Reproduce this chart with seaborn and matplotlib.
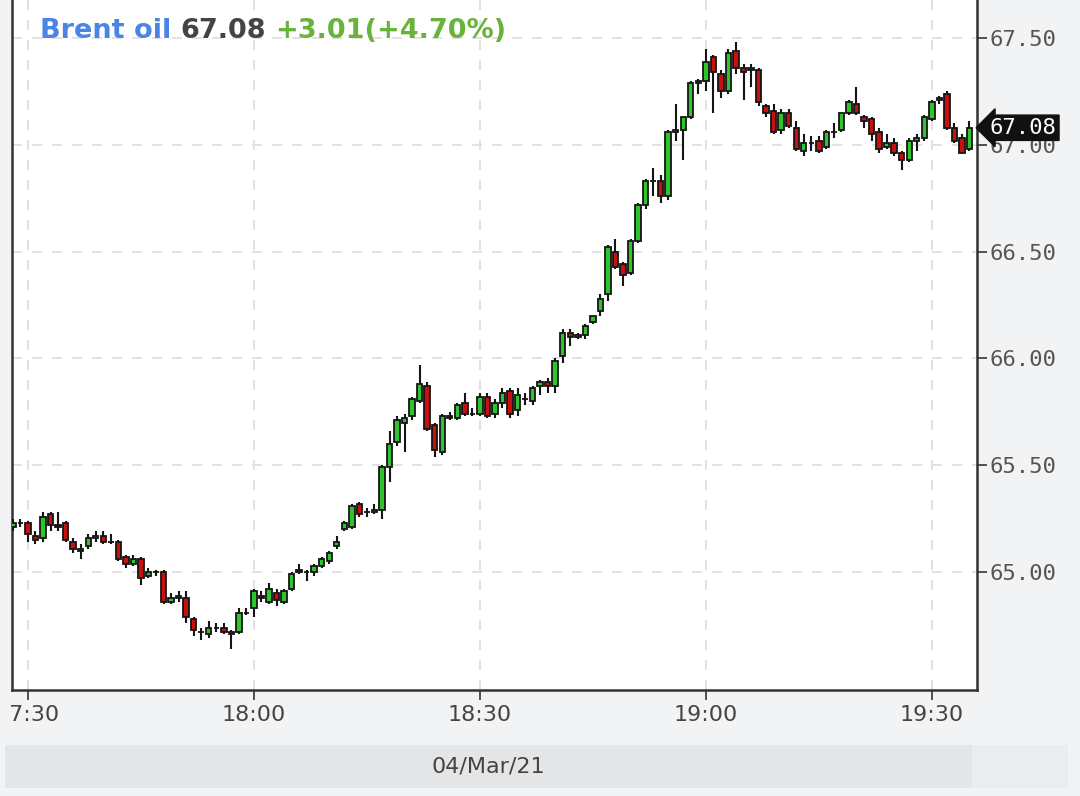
import numpy as np
import pandas as pd
import matplotlib
matplotlib.use("Agg")
import matplotlib.pyplot as plt
import seaborn as sns
from matplotlib.transforms import Bbox, TransformedBbox, blended_transform_factory
from matplotlib.patches import Rectangle

# ---------------- data (1-minute candles, Brent oil, 04/Mar/21 from 17:28) ----------------
opens = [65.21, 65.23, 65.23, 65.17, 65.16, 65.27, 65.22, 65.23, 65.14, 65.10,
         65.12, 65.16, 65.17, 65.14, 65.14, 65.07, 65.04, 65.06, 64.98, 65.00,
         65.00, 64.86, 64.88, 64.88, 64.78, 64.72, 64.71, 64.74, 64.74, 64.71,
         64.72, 64.81, 64.83, 64.89, 64.86, 64.90, 64.86, 64.92, 65.01, 65.00,
         65.00, 65.03, 65.05, 65.12, 65.20, 65.21, 65.32, 65.28, 65.28, 65.29,
         65.49, 65.61, 65.70, 65.73, 65.80, 65.87, 65.69, 65.56, 65.73, 65.72,
         65.79, 65.74, 65.74, 65.82, 65.74, 65.79, 65.85, 65.76, 65.81, 65.80,
         65.87, 65.89, 65.87, 66.01, 66.12, 66.10, 66.11, 66.17, 66.22, 66.30,
         66.50, 66.44, 66.40, 66.55, 66.72, 66.83, 66.83, 66.76, 67.06, 67.07,
         67.13, 67.29, 67.30, 67.41, 67.33, 67.25, 67.44, 67.36, 67.35, 67.35,
         67.18, 67.16, 67.07, 67.15, 67.08, 66.97, 67.01, 67.02, 66.99, 67.06,
         67.07, 67.15, 67.19, 67.13, 67.12, 67.06, 66.99, 67.01, 66.96, 66.93,
         67.02, 67.03, 67.12, 67.21, 67.24, 67.08, 67.03, 66.98]
highs = [65.25, 65.25, 65.24, 65.19, 65.28, 65.28, 65.28, 65.24, 65.16, 65.13,
         65.18, 65.19, 65.19, 65.18, 65.15, 65.08, 65.08, 65.07, 65.02, 65.01,
         65.01, 64.90, 64.91, 64.91, 64.79, 64.74, 64.77, 64.76, 64.76, 64.73,
         64.83, 64.83, 64.92, 64.91, 64.95, 64.92, 64.92, 65.00, 65.04, 65.01,
         65.04, 65.07, 65.10, 65.17, 65.24, 65.32, 65.33, 65.30, 65.32, 65.50,
         65.66, 65.73, 65.74, 65.82, 65.97, 65.89, 65.70, 65.74, 65.75, 65.79,
         65.84, 65.77, 65.84, 65.84, 65.81, 65.86, 65.86, 65.86, 65.84, 65.87,
         65.90, 65.91, 66.00, 66.14, 66.14, 66.12, 66.16, 66.20, 66.30, 66.53,
         66.56, 66.45, 66.56, 66.73, 66.84, 66.89, 66.86, 67.07, 67.19, 67.13,
         67.30, 67.31, 67.45, 67.42, 67.35, 67.45, 67.48, 67.38, 67.38, 67.36,
         67.19, 67.19, 67.17, 67.17, 67.11, 67.05, 67.04, 67.04, 67.07, 67.10,
         67.15, 67.21, 67.27, 67.14, 67.13, 67.08, 67.05, 67.03, 66.97, 67.03,
         67.05, 67.14, 67.21, 67.23, 67.25, 67.10, 67.05, 67.11]
lows = [65.19, 65.21, 65.14, 65.13, 65.14, 65.19, 65.19, 65.14, 65.09, 65.06,
        65.11, 65.14, 65.13, 65.13, 65.05, 65.02, 65.03, 64.94, 64.97, 64.98,
        64.85, 64.85, 64.86, 64.76, 64.70, 64.68, 64.69, 64.72, 64.71, 64.64,
        64.71, 64.80, 64.79, 64.86, 64.85, 64.84, 64.85, 64.91, 64.99, 64.96,
        64.98, 65.02, 65.04, 65.11, 65.19, 65.20, 65.26, 65.26, 65.27, 65.25,
        65.42, 65.59, 65.56, 65.71, 65.79, 65.66, 65.54, 65.55, 65.71, 65.71,
        65.73, 65.73, 65.73, 65.72, 65.72, 65.77, 65.72, 65.73, 65.78, 65.78,
        65.83, 65.84, 65.84, 65.98, 66.06, 66.09, 66.09, 66.16, 66.20, 66.27,
        66.42, 66.34, 66.39, 66.54, 66.70, 66.76, 66.73, 66.74, 67.02, 66.93,
        67.12, 67.24, 67.25, 67.15, 67.22, 67.24, 67.33, 67.21, 67.27, 67.18,
        67.13, 67.05, 67.05, 67.08, 66.97, 66.95, 66.97, 66.96, 66.98, 67.03,
        67.06, 67.14, 67.14, 67.08, 67.02, 66.96, 66.98, 66.95, 66.88, 66.92,
        66.97, 67.02, 67.11, 67.19, 67.07, 67.01, 66.96, 66.97]
closes = [65.23, 65.23, 65.18, 65.15, 65.26, 65.22, 65.21, 65.15, 65.11, 65.11,
          65.16, 65.17, 65.14, 65.14, 65.06, 65.04, 65.06, 64.97, 65.00, 65.00,
          64.86, 64.88, 64.89, 64.79, 64.73, 64.72, 64.74, 64.74, 64.72, 64.72,
          64.81, 64.81, 64.91, 64.88, 64.92, 64.87, 64.91, 64.99, 65.00, 65.00,
          65.03, 65.06, 65.09, 65.14, 65.23, 65.31, 65.27, 65.28, 65.29, 65.49,
          65.60, 65.71, 65.72, 65.81, 65.88, 65.67, 65.57, 65.73, 65.72, 65.78,
          65.74, 65.74, 65.82, 65.73, 65.79, 65.84, 65.74, 65.83, 65.81, 65.86,
          65.89, 65.87, 65.99, 66.12, 66.10, 66.11, 66.15, 66.20, 66.28, 66.52,
          66.43, 66.39, 66.55, 66.72, 66.83, 66.83, 66.76, 67.06, 67.07, 67.13,
          67.29, 67.30, 67.39, 67.34, 67.25, 67.43, 67.36, 67.34, 67.36, 67.20,
          67.15, 67.06, 67.15, 67.09, 66.98, 67.01, 67.01, 66.97, 67.06, 67.06,
          67.15, 67.20, 67.15, 67.11, 67.05, 66.98, 67.01, 66.96, 66.93, 67.02,
          67.03, 67.13, 67.20, 67.22, 67.08, 67.02, 66.96, 67.08]
times = pd.date_range("2021-03-04 17:28", periods=len(closes), freq="min")
y_ticks = [65.00, 65.50, 66.00, 66.50, 67.00, 67.50]
name = "Brent oil"
last_price = 67.08
change_text = "+3.01(+4.70%)"
date_text = "04/Mar/21"

df = pd.DataFrame({"t": times, "o": opens, "h": highs, "l": lows, "c": closes})
df["x"] = np.arange(len(df))
df["up"] = df["c"] >= df["o"]

# ---------------- style ----------------
sns.set_theme(style="white")
plt.rcParams["font.family"] = ["DejaVu Sans"]

W, H = 1080, 796
BG = "#f1f3f5"
fig = plt.figure(figsize=(W / 100, H / 100), dpi=100, facecolor=BG)
ax = fig.add_axes([12 / W, 106 / H, 965 / W, 690 / H])
ax.set_facecolor("white")

# candles
ax.vlines(df["x"], df["l"], df["h"], color="#151515", lw=1.5, zorder=3)
body_colors = np.where(df["up"], "#2ec42e", "#c8100f")
ax.bar(df["x"], df["c"] - df["o"], bottom=df["o"], width=0.72,
       color=body_colors, edgecolor="#151515", linewidth=1.3, zorder=4)

ax.set_xlim(-0.12, 128.0)
ax.set_ylim(64.448, 67.678)

# x ticks at :00 / :30
xt = df.index[df["t"].dt.minute % 30 == 0]
ax.set_xticks(df.loc[xt, "x"])
ax.set_xticklabels(df.loc[xt, "t"].dt.strftime("%H:%M"))
ax.yaxis.tick_right()
ax.set_yticks(y_ticks)
ax.set_yticklabels([f"{v:.2f}" for v in y_ticks])

ax.tick_params(axis="x", bottom=True, direction="out", length=7, width=1.2,
               color="#333333", labelsize=16, labelcolor="#444444", pad=4)
ax.tick_params(axis="y", right=True, left=False, direction="out", length=7,
               width=1.2, color="#333333", labelsize=16, labelcolor="#555555", pad=2)
for lbl in ax.get_yticklabels():
    lbl.set_fontfamily("DejaVu Sans Mono")

ax.grid(True, color="#dddddd", lw=1.2, ls=(0, (6, 6)))
ax.set_axisbelow(True)
for s in ["left", "right", "bottom"]:
    ax.spines[s].set_visible(True)
    ax.spines[s].set_color("#333333")
    ax.spines[s].set_linewidth(1.8)
ax.spines["top"].set_visible(False)

# clip x labels at the panel's left edge (first label shows as "7:30", as in the source)
clip = TransformedBbox(Bbox([[9 / W, 0], [1, 1]]), fig.transFigure)
for lbl in ax.get_xticklabels():
    lbl.set_clip_box(clip)
    lbl.set_clip_on(True)

# last-price tag
trans = blended_transform_factory(ax.transAxes, ax.transData)
ax.annotate(f"{last_price:.2f}", xy=(1.0, last_price), xycoords=trans,
            xytext=(9, 0), textcoords="offset points", ha="left", va="center",
            fontsize=16, color="white", family="DejaVu Sans Mono",
            bbox=dict(boxstyle="larrow,pad=0.12", fc="#111111", ec="#111111"),
            annotation_clip=False, zorder=10)

# date bar
fig.patches.append(Rectangle((5 / W, 8 / H), 967 / W, 43 / H, transform=fig.transFigure,
                             facecolor="#e3e5e7", edgecolor="none", zorder=0))
fig.patches.append(Rectangle((972 / W, 8 / H), 96 / W, 43 / H, transform=fig.transFigure,
                             facecolor="#eaecee", edgecolor="none", zorder=0))
fig.text(488 / W, 29 / H, date_text, ha="center", va="center", fontsize=16, color="#444444")

# title
renderer = fig.canvas.get_renderer()
xpix = 40
for s, col in [(name, "#4a84e4"), (f"{last_price:.2f}", "#444444"), (change_text, "#68b33a")]:
    t = fig.text(xpix / W, 1 - 38 / H, s, ha="left", va="baseline", fontsize=19.5,
                 fontweight="bold", color=col)
    xpix += t.get_window_extent(renderer).width + 9

fig.savefig("out.png", dpi=100, facecolor=BG)
